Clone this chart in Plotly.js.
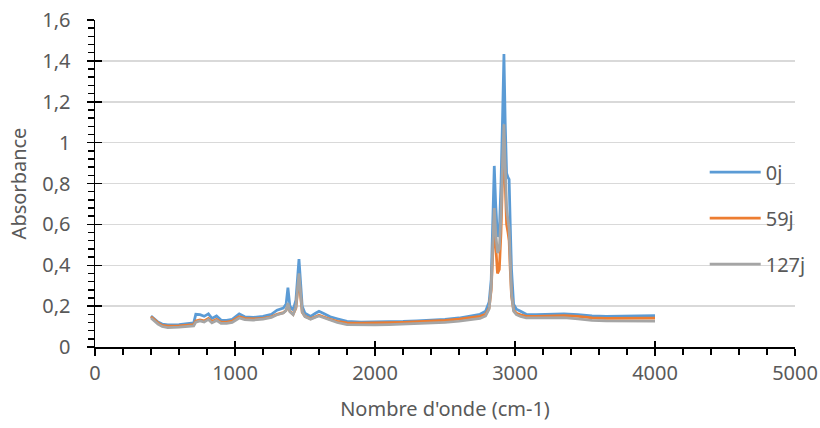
<!DOCTYPE html>
<html>
<head>
<meta charset="utf-8">
<script src="https://cdn.plot.ly/plotly-3.0.1.min.js"></script>
<style>html,body{margin:0;padding:0;background:#fff;}#chart{width:820px;height:428px;}</style>
</head>
<body>
<div id="chart"></div>
<script>
const wavenumber = [400,420,450,480,520,600,680,705,720,750,780,810,835,868,900,940,980,1030,1070,1130,1200,1260,1300,1345,1365,1378,1392,1415,1435,1448,1457,1467,1480,1500,1540,1575,1600,1630,1680,1730,1800,1900,2000,2100,2200,2300,2400,2500,2600,2680,2750,2790,2815,2830,2842,2852,2862,2875,2888,2900,2912,2921,2930,2940,2950,2958,2966,2975,2990,3010,3040,3080,3150,3250,3350,3450,3550,3650,3750,3850,3950,4000];

const abs0j = [0.152,0.140,0.122,0.112,0.108,0.110,0.114,0.118,0.160,0.158,0.150,0.162,0.140,0.152,0.132,0.130,0.135,0.162,0.148,0.145,0.150,0.160,0.180,0.190,0.210,0.290,0.200,0.180,0.230,0.340,0.430,0.330,0.200,0.165,0.150,0.165,0.175,0.165,0.148,0.138,0.125,0.122,0.122,0.123,0.125,0.128,0.131,0.135,0.142,0.150,0.160,0.175,0.220,0.330,0.600,0.886,0.700,0.540,0.560,0.800,1.150,1.433,1.100,0.850,0.830,0.820,0.600,0.380,0.210,0.185,0.175,0.160,0.158,0.160,0.162,0.158,0.152,0.150,0.150,0.152,0.153,0.153];

const abs59j = [0.148,0.136,0.118,0.106,0.102,0.104,0.107,0.110,0.128,0.133,0.128,0.140,0.125,0.135,0.122,0.122,0.127,0.148,0.140,0.138,0.140,0.148,0.160,0.168,0.180,0.205,0.175,0.160,0.190,0.270,0.335,0.260,0.170,0.150,0.138,0.148,0.155,0.148,0.135,0.126,0.118,0.117,0.117,0.119,0.121,0.123,0.126,0.130,0.136,0.142,0.150,0.160,0.190,0.280,0.440,0.620,0.500,0.360,0.380,0.560,0.850,1.020,0.800,0.600,0.560,0.520,0.380,0.250,0.180,0.165,0.158,0.150,0.150,0.152,0.154,0.150,0.142,0.140,0.140,0.141,0.141,0.141];

const abs127j = [0.142,0.130,0.112,0.100,0.095,0.097,0.100,0.103,0.122,0.128,0.122,0.135,0.118,0.130,0.116,0.116,0.120,0.142,0.134,0.132,0.136,0.145,0.158,0.166,0.178,0.215,0.172,0.158,0.195,0.285,0.360,0.275,0.172,0.148,0.136,0.146,0.152,0.144,0.130,0.120,0.110,0.108,0.108,0.110,0.112,0.114,0.117,0.120,0.126,0.132,0.140,0.152,0.185,0.290,0.480,0.680,0.560,0.460,0.480,0.640,0.920,1.090,0.880,0.680,0.620,0.580,0.420,0.260,0.175,0.158,0.150,0.142,0.142,0.143,0.144,0.138,0.130,0.128,0.127,0.127,0.127,0.127];

const seriesNames = ['0j','59j','127j'];
const seriesColors = ['#5B9BD5','#ED7D31','#A5A5A5'];
const seriesValues = [abs0j, abs59j, abs127j];

const yTickVals = [0,0.2,0.4,0.6,0.8,1,1.2,1.4,1.6];
const yTickText = ['0','0,2','0,4','0,6','0,8','1','1,2','1,4','1,6'];
const xTickVals = [0,1000,2000,3000,4000,5000];
const xTickText = ['0','1000','2000','3000','4000','5000'];

const FONT = '"Noto Sans", "Open Sans", sans-serif';
const TXT = '#595959';
const FS = 20;

const traces = seriesNames.map((n,i)=>({
  type:'scatter', mode:'lines', name:n, x:wavenumber, y:seriesValues[i],
  line:{color:seriesColors[i], width:2.75}, legendgroup:n, xaxis:'x', yaxis:'y'
}));
// invisible trace driving the overlay axes (inner half of the crossing major ticks)
traces.push({type:'scatter', mode:'lines', x:[0,5000], y:[0,0], xaxis:'x2', yaxis:'y2', showlegend:false, hoverinfo:'skip', line:{width:0, color:'rgba(0,0,0,0)'}});

const layout = {
  width:820, height:428,
  margin:{l:95, r:25, t:20, b:81, autoexpand:false},
  paper_bgcolor:'#fff', plot_bgcolor:'#fff',
  font:{family:FONT, color:TXT, size:FS},
  showlegend:true,
  legend:{x:0.871, y:0.394, xanchor:'left', yanchor:'middle', bgcolor:'rgba(0,0,0,0)',
          font:{family:FONT, size:FS, color:TXT}, tracegroupgap:17, itemwidth:51},
  xaxis:{range:[0,5000], tickmode:'array', tickvals:xTickVals, ticktext:xTickText,
         showgrid:false, zeroline:false, showline:true, linecolor:'#000', linewidth:1.5,
         ticks:'outside', ticklen:7, tickwidth:1.5, tickcolor:'#000',
         minor:{dtick:200, ticks:'outside', ticklen:6, tickwidth:1.5, tickcolor:'#000', showgrid:false},
         tickfont:{family:FONT, size:FS, color:TXT},
         title:{text:"Nombre d'onde (cm-1)", font:{family:FONT, size:FS, color:TXT}, standoff:17}},
  yaxis:{range:[0,1.6], tickmode:'array', tickvals:yTickVals, ticktext:yTickText,
         showgrid:true, gridcolor:'#D9D9D9', gridwidth:1.5, zeroline:false,
         showline:true, linecolor:'#000', linewidth:1.5,
         ticks:'outside', ticklen:7, tickwidth:1.5, tickcolor:'#000',
         minor:{dtick:0.04, ticks:'outside', ticklen:6, tickwidth:1.5, tickcolor:'#000', showgrid:false},
         tickfont:{family:FONT, size:FS, color:TXT}, ticklabelstandoff:12,
         title:{text:'Absorbance', font:{family:FONT, size:FS, color:TXT}, standoff:10}},
  xaxis2:{overlaying:'x', range:[0,5000], tickmode:'array', tickvals:xTickVals, showticklabels:false,
          ticks:'inside', ticklen:6, tickwidth:1.5, tickcolor:'#000', showgrid:false, zeroline:false, showline:false},
  yaxis2:{overlaying:'y', range:[0,1.6], tickmode:'array', tickvals:yTickVals, showticklabels:false,
          ticks:'inside', ticklen:7, tickwidth:1.5, tickcolor:'#000', showgrid:false, zeroline:false, showline:false}
};

Plotly.newPlot('chart', traces, layout, {staticPlot:true, displayModeBar:false});
</script>
</body>
</html>
